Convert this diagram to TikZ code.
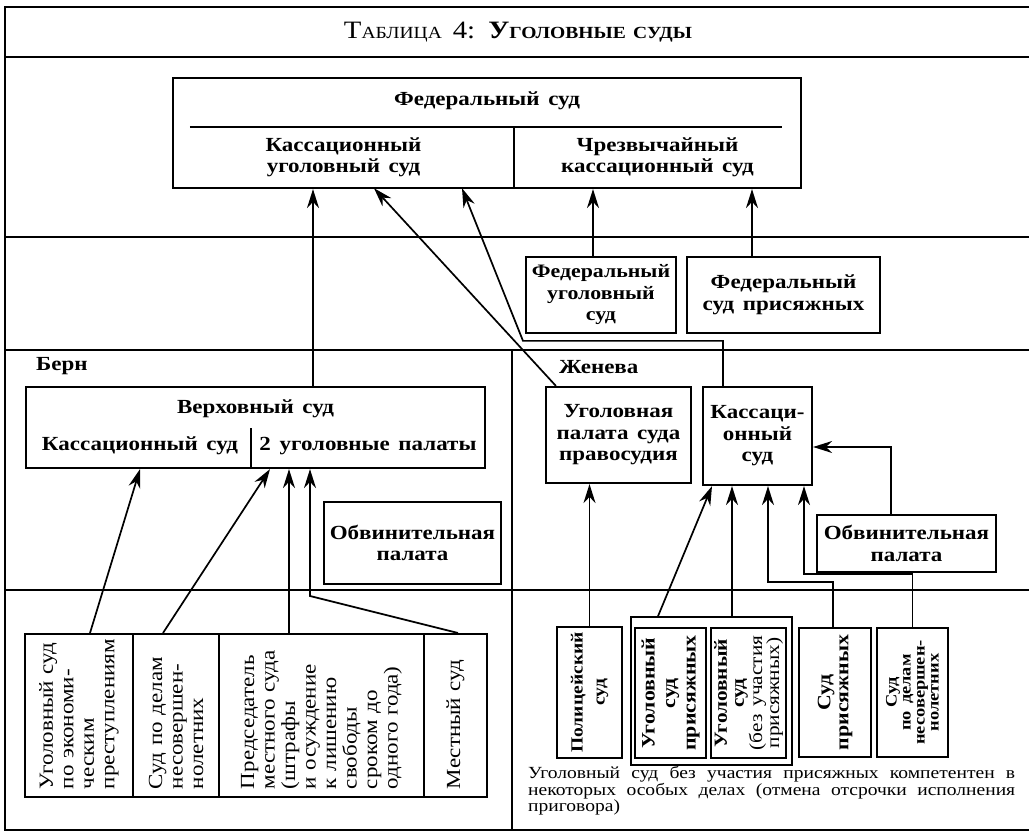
\documentclass[tikz,border=0pt]{standalone}
\usepackage{fontspec}
\setmainfont{Liberation Serif}[FakeStretch=1.15, WordSpace=1.5]
\usetikzlibrary{arrows.meta}
\newcommand{\smcap}[1]{{\fontsize{17}{17}\selectfont #1}}

\begin{document}
\begin{tikzpicture}[x=1pt,y=-1pt]
\tikzstyle{every node}+=[inner sep=0pt]
\tikzstyle{rule}=[line width=1.5pt]
\tikzstyle{box}=[draw, line width=2.2pt, align=center, font=\fontsize{20}{21.5}\selectfont\bfseries]
\tikzstyle{cell}=[draw, line width=2pt, minimum height=163pt]
\tikzstyle{lbl}=[align=center, font=\fontsize{20}{21.5}\selectfont\bfseries]
\tikzstyle{vtext}=[rotate=90, align=left, text width=147pt, font=\fontsize{20}{20.5}\selectfont]
\tikzstyle{vbold}=[rotate=90, align=center, font=\fontsize{19}{20.5}\selectfont\bfseries]
\tikzstyle{arr}=[line width=1.7pt, -{Stealth[length=19pt,width=12pt]}]
\useasboundingbox (0,0) rectangle (1029,834);
\draw[rule] (1029,7) -- (5,7) -- (5,830) -- (1029,830);
\draw[rule] (5,57) -- (1029,57);
\draw[rule] (5,237) -- (1029,237);
\draw[rule] (5,350) -- (1029,350);
\draw[rule] (5,590) -- (1029,590);
\draw[rule] (512,350) -- (512,830);
\node (title) at (518,32) {\fontsize{25}{27}\selectfont Т\smcap{АБЛИЦА} 4: \bfseries У\smcap{ГОЛОВНЫЕ СУДЫ}};
\node[box, minimum width=628pt, minimum height=110pt] (fed) at (487,133) {};
\node[lbl] (fedname) at (487,101) {Федеральный суд};
\node[lbl, minimum width=341pt, minimum height=61pt] (kass) at (343.5,157.5) {Кассационный\\уголовный суд};
\node[lbl, minimum width=287pt, minimum height=61pt] (chrez) at (657.5,157.5) {Чрезвычайный\\кассационный суд};
\draw[rule] ([xshift=17pt]kass.north west) -- ([xshift=-19pt]chrez.north east);
\draw[rule] (kass.north east) -- (kass.south east);
\node[box, font=\fontsize{19}{21.5}\selectfont\bfseries, minimum width=150pt, minimum height=76pt] (fcrim) at (601,295) {Федеральный\\уголовный\\суд};
\node[box, minimum width=193pt, minimum height=76pt] (fjury) at (783.5,295) {Федеральный\\суд присяжных};
\node[lbl, anchor=west] (bern) at (36,366) {Берн};
\node[box, minimum width=459pt, minimum height=81pt] (vs) at (255.5,427.5) {};
\node[lbl] (vsname) at (255.5,409) {Верховный суд};
\node[lbl] (vkass) at (140,446) {Кассационный суд};
\node[lbl] (vpal) at (368,446) {2 уголовные палаты};
\draw[rule] ([xshift=-4.5pt]vs.south) -- ++(0,-41);
\node[box, minimum width=177pt, minimum height=82pt] (bobv) at (412.5,543) {Обвинительная\\палата};
\node[cell, minimum width=108pt] (econ) at (79,715.5) {};
\node[cell, minimum width=86pt] (juvb) at (176,715.5) {};
\node[cell, minimum width=205pt] (pres) at (321.5,715.5) {};
\node[cell, minimum width=63pt] (loc) at (455.5,715.5) {};
\node[vtext] (econt) at (econ) {Уголовный суд\\по экономи-\\ческим\\преступлениям};
\node[vtext] (juvbt) at (juvb) {Суд по делам\\несовершен-\\нолетних};
\node[vtext] (prest) at (pres) {Председатель\\местного суда\\(штрафы\\и осуждение\\к лишению\\свободы\\сроком до\\одного года)};
\node[vtext] (loct) at (loc) {Местный суд};
\node[lbl, anchor=west] (genf) at (559,367) {Женева};
\node[box, minimum width=145pt, minimum height=96pt] (pal) at (618.5,435) {Уголовная\\палата суда\\правосудия};
\node[box, minimum width=109pt, minimum height=98pt] (gkass) at (757.5,436) {Кассаци-\\онный\\суд};
\node[box, minimum width=179pt, minimum height=57pt] (gobv) at (906.5,543.5) {Обвинительная\\палата};
\node[box, minimum width=65pt, minimum height=131pt] (police) at (589.5,692.5) {};
\node[box, line width=1.6pt, minimum width=161pt, minimum height=148pt] (grp) at (711.5,691) {};
\node[box, minimum width=71pt, minimum height=130pt] (crj) at (670.5,693) {};
\node[box, minimum width=75pt, minimum height=130pt] (crn) at (748.5,693) {};
\node[box, minimum width=72pt, minimum height=129pt] (jury) at (835,692.5) {};
\node[box, minimum width=71pt, minimum height=129pt] (juv) at (912.5,692.5) {};
\node[vbold, font=\fontsize{17}{22}\selectfont\bfseries] (policet) at (police) {Полицейский\\суд};
\node[vbold] (crjt) at (crj) {Уголовный\\суд\\присяжных};
\node[vbold, font=\fontsize{18.5}{17}\selectfont] (crnt) at (crn) {\textbf{Уголовный}\\\textbf{суд}\\(без участия\\присяжных)};
\node[vbold, font=\fontsize{19}{18}\selectfont\bfseries] (juryt) at (jury) {Суд\\присяжных};
\node[vbold, font=\fontsize{16}{14}\selectfont\bfseries] (juvt) at (juv) {Суд\\по делам\\несовершен-\\нолетних};
\node[anchor=north west, text width=487pt, align=justify, font=\fontsize{17}{16.8}\selectfont] (note) at (528,766) {Уголовный суд без участия присяжных компетентен в\linebreak некоторых особых делах (отмена отсрочки исполнения\linebreak приговора)};
\draw[arr] ([xshift=57.5pt]vs.north) -- ([xshift=57.5pt]vs.north |- fed.south);
\draw[arr] ([xshift=11pt]pal.north west) -- ([xshift=30.5pt]kass.south);
\draw[arr] ([xshift=-34.5pt]gkass.north) -- ++(0,-45) -- ++(-200,0) -- ([xshift=118.5pt]kass.south);
\draw[arr] ([xshift=-8pt]fcrim.north) -- ([xshift=-8pt]fcrim.north |- fed.south);
\draw[arr] ([xshift=-31.5pt]fjury.north) -- ([xshift=-31.5pt]fjury.north |- fed.south);
\draw[arr] ([xshift=11pt]econ.north) -- ([xshift=-115.5pt]vs.south);
\draw[arr] ([xshift=-13pt]juvb.north) -- ([xshift=14.5pt]vs.south);
\draw[arr] ([xshift=-32.5pt]pres.north) -- ([xshift=-32.5pt]pres.north |- vs.south);
\draw[arr] ([xshift=2.5pt]loc.north) -- ++(-148,-37) -- ([xshift=54.5pt]vs.south);
\draw[arr] (police.north) -- (police.north |- pal.south);
\draw[arr] ([xshift=-53.5pt]grp.north) -- ([xshift=-45.5pt]gkass.south);
\draw[arr] ([xshift=20.5pt]grp.north) -- ([xshift=20.5pt]grp.north |- gkass.south);
\draw[arr] ([xshift=-2pt]jury.north) -- ++(0,-45) -| ([xshift=10.5pt]gkass.south);
\draw[arr] (juv.north) -- ++(0,-53) -| ([xshift=46.5pt]gkass.south);
\draw[arr] ([xshift=-15.5pt]gobv.north) |- ([yshift=-11pt]gkass.east);
\end{tikzpicture}
\end{document}
